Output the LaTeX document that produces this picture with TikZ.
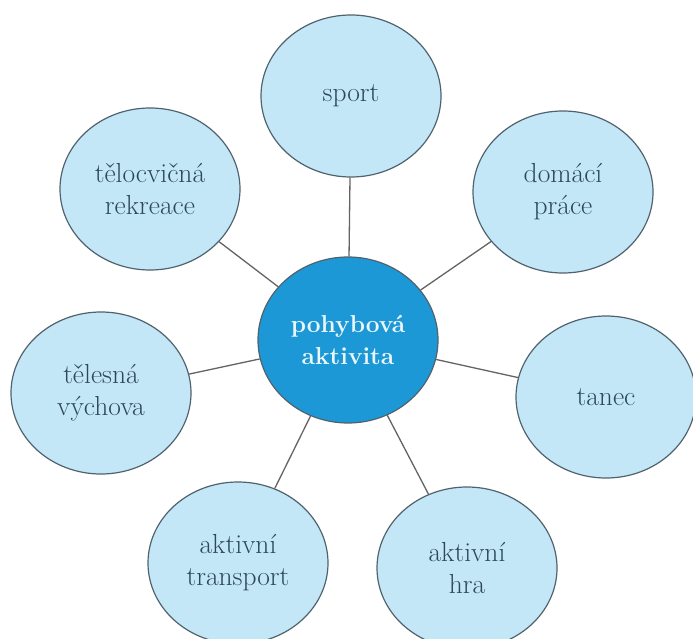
\documentclass[tikz,border=0pt]{standalone}
\usetikzlibrary{shapes.geometric}
\definecolor{bubble}{RGB}{196,231,247}
\definecolor{rim}{RGB}{80,98,110}
\definecolor{hubblue}{RGB}{28,152,214}
\definecolor{ink}{RGB}{45,72,88}
\definecolor{hubink}{RGB}{236,247,251}
\definecolor{spokegray}{RGB}{100,100,100}
\tikzset{
  bub/.style={ellipse, draw=rim, line width=1.2pt, fill=bubble, text=ink,
    minimum width=180pt, minimum height=162pt, inner sep=0pt, align=center,
    font=\fontsize{27.5}{32}\selectfont},
  hub/.style={bub, fill=hubblue, text=hubink, minimum height=166pt,
    font=\fontsize{24.5}{32}\selectfont\bfseries},
  spoke/.style={draw=spokegray, line width=1.3pt}
}
\begin{document}
\begin{tikzpicture}[x=1pt, y=-1pt]
\useasboundingbox[fill=white] (0,0) rectangle (693,639);

\node[hub] (a) at (348, 340) {pohybová\\aktivita};

\node[bub] (b) at (351, 96) {sport};
\node[bub] (c) at (150, 189) {tělocvičná\\rekreace};
\node[bub] (d) at (563, 192) {domácí\\práce};
\node[bub] (e) at (101, 393) {tělesná\\výchova};
\node[bub] (f) at (606, 397) {tanec};
\node[bub] (g) at (238, 563) {aktivní\\transport};
\node[bub] (h) at (467, 568) {aktivní\\hra};

\foreach \n in {b,c,d,e,f,g,h}
  \draw[spoke] (a) -- (\n);
\end{tikzpicture}
\end{document}
